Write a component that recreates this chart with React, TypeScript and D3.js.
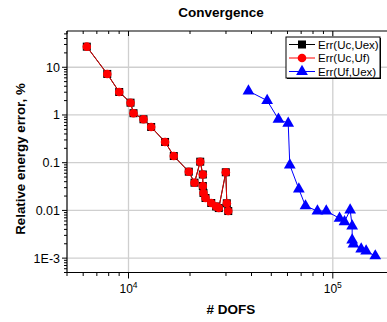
import React from "react";
import * as d3 from "d3";

const redX = [6250, 7870, 9006, 10230, 10580, 11840, 12910, 15100, 16660, 19730, 21040, 22440, 23110, 23110, 23280, 23820, 25410, 26860, 27670, 29940, 30290, 30780];
const redY = [27.0, 7.24, 3.03, 1.81, 1.09, 0.813, 0.56, 0.272, 0.138, 0.0648, 0.0381, 0.105, 0.0566, 0.0325, 0.0232, 0.0182, 0.0143, 0.0121, 0.0112, 0.063, 0.0141, 0.0097];
const blackX = redX;
const blackY = redY;
const blueX = [38650, 47720, 54200, 60500, 61600, 68200, 73500, 84100, 92900, 107900, 114100, 121600, 124400, 124400, 126200, 137700, 145600, 161400];
const blueY = [3.18, 2.0, 0.813, 0.67, 0.0895, 0.0281, 0.0124, 0.0097, 0.0097, 0.00683, 0.00579, 0.0102, 0.00471, 0.00239, 0.00197, 0.00155, 0.00141, 0.00111];

const yTickVals = [10, 1, 0.1, 0.01, 0.001];
const yTickLabels = ["10", "1", "0.1", "0.01", "1E-3"];
const xTickVals = [1e4, 1e5];
const xTickExp = ["4", "5"];
const legendLabels = ["Err(Uc,Uex)", "Err(Uc,Uf)", "Err(Uf,Uex)"];

const W = 387, H = 322;
const L = 67, T = 31, B = 272.5, R = 394.3;
const FONT = "'Liberation Sans', Arial, sans-serif";

export default function App() {
  const x = d3.scaleLog().domain([5000, 200000]).range([L, R]);
  const y = d3.scaleLog().domain([5e-4, 57.5]).range([B, T]);
  const line = d3.line<[number, number]>().x((d) => x(d[0])).y((d) => y(d[1]));
  const red = redX.map((v, i) => [v, redY[i]] as [number, number]);
  const black = blackX.map((v, i) => [v, blackY[i]] as [number, number]);
  const blue = blueX.map((v, i) => [v, blueY[i]] as [number, number]);

  const xMinor: number[] = [];
  for (let e = 3; e <= 5; e++) for (let m = 1; m <= 9; m++) {
    const v = m * Math.pow(10, e);
    if (v >= 5000 && v <= 200000) xMinor.push(v);
  }
  const yMinor: number[] = [];
  for (let e = -4; e <= 1; e++) for (let m = 1; m <= 9; m++) {
    const v = m * Math.pow(10, e);
    if (v >= 5e-4 && v <= 57.5) yMinor.push(v);
  }
  const tri = d3.symbol().type(d3.symbolTriangle).size(60)() as string;

  return (
    <div style={{ position: "absolute", left: 0, top: 0 }}>
      <svg width={W} height={H} style={{ display: "block", background: "#fff" }} fontFamily={FONT}>
        <defs>
          <clipPath id="plot"><rect x={L - 6} y={T - 6} width={R - L + 12} height={B - T + 12} /></clipPath>
        </defs>
        {/* grid */}
        {xTickVals.map((v) => (
          <line key={"gx" + v} x1={x(v)} x2={x(v)} y1={T} y2={B} stroke="#cfcfcf" strokeWidth={1.3} />
        ))}
        {yTickVals.map((v) => (
          <line key={"gy" + v} x1={L} x2={R} y1={y(v)} y2={y(v)} stroke="#cfcfcf" strokeWidth={1.3} />
        ))}
        {/* frame */}
        <line x1={L} x2={R} y1={T} y2={T} stroke="#000" strokeWidth={1.2} />
        <line x1={L} x2={R} y1={B} y2={B} stroke="#000" strokeWidth={1.2} />
        <line x1={L} x2={L} y1={T} y2={B} stroke="#000" strokeWidth={1.2} />
        {/* x ticks */}
        {xMinor.map((v, i) => {
          const major = xTickVals.includes(v);
          return (
            <g key={"xt" + i}>
              <line x1={x(v)} x2={x(v)} y1={B} y2={B + (major ? 6 : 3.5)} stroke="#000" strokeWidth={1} />
              <line x1={x(v)} x2={x(v)} y1={T} y2={T + (major ? 5 : 3)} stroke="#000" strokeWidth={1} />
            </g>
          );
        })}
        {/* y ticks */}
        {yMinor.map((v, i) => {
          const major = yTickVals.some((t) => Math.abs(t - v) / t < 1e-6);
          return (
            <line key={"yt" + i} x1={L - (major ? 5 : 3)} x2={L} y1={y(v)} y2={y(v)} stroke="#000" strokeWidth={1} />
          );
        })}
        {yTickVals.map((v, i) => (
          <text key={"yl" + i} x={L - 7} y={y(v)} dy="0.35em" textAnchor="end" fontSize={12.5} fill="#000">{yTickLabels[i]}</text>
        ))}
        {xTickVals.map((v, i) => (
          <text key={"xl" + i} x={x(v)} y={293} textAnchor="middle" fontSize={12} fill="#000">
            10<tspan fontSize={8.5} dy={-5}>{xTickExp[i]}</tspan>
          </text>
        ))}
        {/* data */}
        <g clipPath="url(#plot)">
          <path d={line(black) as string} fill="none" stroke="#000" strokeWidth={1} />
          {black.map((d, i) => (
            <rect key={"bk" + i} x={x(d[0]) - 4} y={y(d[1]) - 4} width={8} height={8} fill="#000" />
          ))}
          <path d={line(red) as string} fill="none" stroke="#e00000" strokeWidth={1} />
          {red.map((d, i) => (
            <circle key={"rd" + i} cx={x(d[0])} cy={y(d[1])} r={4.3} fill="#ff0000" />
          ))}
          <path d={line(blue) as string} fill="none" stroke="#0000ff" strokeWidth={1} />
          {blue.map((d, i) => (
            <path key={"bl" + i} d={tri} transform={`translate(${x(d[0])},${y(d[1])})`} fill="#0000ff" />
          ))}
        </g>
        {/* legend */}
        <rect x={287} y={38} width={94} height={41} fill="#000" />
        <rect x={286} y={37} width={94} height={41} fill="#fff" stroke="#000" strokeWidth={1} />
        {legendLabels.map((lab, i) => {
          const ly = 44.5 + i * 13.5;
          return (
            <g key={"lg" + i}>
              <line x1={289} x2={315} y1={ly} y2={ly} stroke={["#000", "#ff0000", "#0000ff"][i]} strokeWidth={1} />
              {i === 0 && <rect x={298} y={ly - 4} width={8} height={8} fill="#000" />}
              {i === 1 && <circle cx={302} cy={ly} r={4.3} fill="#ff0000" />}
              {i === 2 && <path d={tri} transform={`translate(302,${ly})`} fill="#0000ff" />}
              <text x={318} y={ly} dy="0.35em" fontSize={11.5} fill="#000">{lab}</text>
            </g>
          );
        })}
        {/* titles */}
        <text x={221} y={17} textAnchor="middle" fontSize={13.5} fontWeight="bold" fill="#000">Convergence</text>
        <text x={231} y={314} textAnchor="middle" fontSize={13.5} fontWeight="bold" fill="#000"># DOFS</text>
        <text transform="translate(25,159) rotate(-90)" textAnchor="middle" fontSize={13.3} fontWeight="bold" fill="#000">Relative energy error, %</text>
      </svg>
    </div>
  );
}
